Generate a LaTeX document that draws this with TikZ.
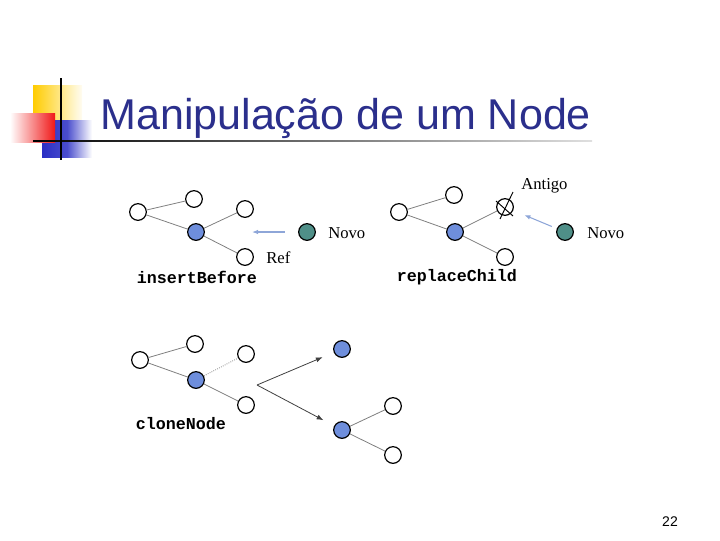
\documentclass[tikz,border=0pt]{standalone}
\usepackage{fontspec}
\setmainfont{Liberation Serif}
\setmonofont{Liberation Mono}
\newfontfamily\headfont{Liberation Sans}
\usepackage{xcolor}
\usetikzlibrary{arrows.meta}

\definecolor{titleblue}{HTML}{2B2F8C}
\definecolor{nodeblue}{HTML}{6E8EDC}
\definecolor{nodeteal}{HTML}{4F8F88}
\definecolor{arrowblue}{HTML}{8EA6D8}
\definecolor{deco yellow}{HTML}{FFCC00}
\definecolor{deco blue}{HTML}{2A2EC4}
\definecolor{deco red}{HTML}{F01818}

\begin{document}
\begin{tikzpicture}[x=0.75pt, y=-0.75pt,
  vertex/.style={circle, draw, fill=white, line width=0.9pt,
    minimum size=12.5pt, inner sep=0pt},
  picked/.style={vertex, fill=nodeblue},
  fresh/.style={vertex, fill=nodeteal},
  edge/.style={draw=gray, line width=0.6pt},
  faint/.style={edge, densely dotted},
  pointer/.style={-{Latex[length=1.6mm]}, draw=arrowblue, line width=0.8pt},
  copyarrow/.style={-{Latex[length=1.8mm]}, draw=darkgray, line width=0.6pt},
  method/.style={font=\ttfamily\bfseries\fontsize{12.5}{14}\selectfont},
  tag/.style={anchor=west, inner sep=0pt, font=\fontsize{12.5}{14}\selectfont}
]
\useasboundingbox (0,0) rectangle (720,540);

% title decoration
\shade[left color=deco yellow, right color=deco yellow!5] (33,85) rectangle (82,120);
\shade[left color=deco blue, right color=white, middle color=deco blue!85] (42,120) rectangle (92,157);
\shade[left color=white, right color=deco red] (10,113) rectangle (55,142);
\shade[left color=black, right color=gray!25] (33,140.2) rectangle (592,141.8);
\draw[line width=1.5pt] (61,78) -- (61,160);
\node[anchor=base west, inner sep=0pt, text=titleblue,
  font=\headfont\fontsize{32.3}{38}\selectfont] (title) at (100,129)
  {Manipulação de um Node};

% insertBefore
\node[vertex] (i0) at (138,212) {};
\node[vertex] (i1) at (194,199) {};
\node[picked] (i2) at (196,232) {};
\node[vertex] (i3) at (245,209) {};
\node[vertex] (i4) at (245,257) {};
\node[fresh] (nv1) at (307,232) {};
\node[tag] (nv1lbl) at (328,233) {Novo};
\node[tag] (ref) at (266,258) {Ref};
\node[method] (ins) at (197,277) {insertBefore};
\coordinate (insgap) at (252,232);
\draw[edge] (i0) -- (i1);
\draw[edge] (i0) -- (i2);
\draw[edge] (i2) -- (i3);
\draw[edge] (i2) -- (i4);
\draw[pointer, shorten <=10pt] (nv1) -- (insgap);

% replaceChild
\node[vertex] (r0) at (399,212) {};
\node[vertex] (r1) at (454,195) {};
\node[picked] (r2) at (455,232) {};
\node[vertex] (r3) at (505,207) {};
\node[vertex] (r4) at (505,257) {};
\node[fresh] (nv2) at (565,232) {};
\node[tag] (nv2lbl) at (587,233) {Novo};
\node[tag] (old) at (521,186) {Antigo};
\node[method] (rep) at (457,277) {replaceChild};
\draw[edge] (r0) -- (r1);
\draw[edge] (r0) -- (r2);
\draw[edge] (r2) -- (r3);
\draw[edge] (r2) -- (r4);
\draw[line width=0.7pt] ([shift={(-5,12)}]r3.center) -- ([shift={(8,-15)}]r3.center);
\draw[line width=0.7pt] ([shift={(-9,-6)}]r3.center) -- ([shift={(8,9)}]r3.center);
\draw[pointer, shorten <=4pt, shorten >=9pt] (nv2) -- (r3);

% cloneNode
\node[vertex] (c0) at (140,360) {};
\node[vertex] (c1) at (195,344) {};
\node[picked] (c2) at (196,380) {};
\node[vertex] (c3) at (246,354) {};
\node[vertex] (c4) at (246,405) {};
\node[method] (cln) at (181,424) {cloneNode};
\draw[edge] (c0) -- (c1);
\draw[edge] (c0) -- (c2);
\draw[faint] (c2) -- (c3);
\draw[edge] (c2) -- (c4);

\node[picked] (k0) at (342,349) {};
\node[picked] (k1) at (342,430) {};
\node[vertex] (k2) at (393,406) {};
\node[vertex] (k3) at (393,455) {};
\draw[edge] (k1) -- (k2);
\draw[edge] (k1) -- (k3);

\coordinate (split) at (257,385);
\draw[copyarrow, shorten >=9pt] (split) -- (k0);
\draw[copyarrow, shorten >=9pt] (split) -- (k1);

% page number
\node[font=\headfont\fontsize{10.5}{12}\selectfont] (page) at (670,522) {22};
\end{tikzpicture}
\end{document}
